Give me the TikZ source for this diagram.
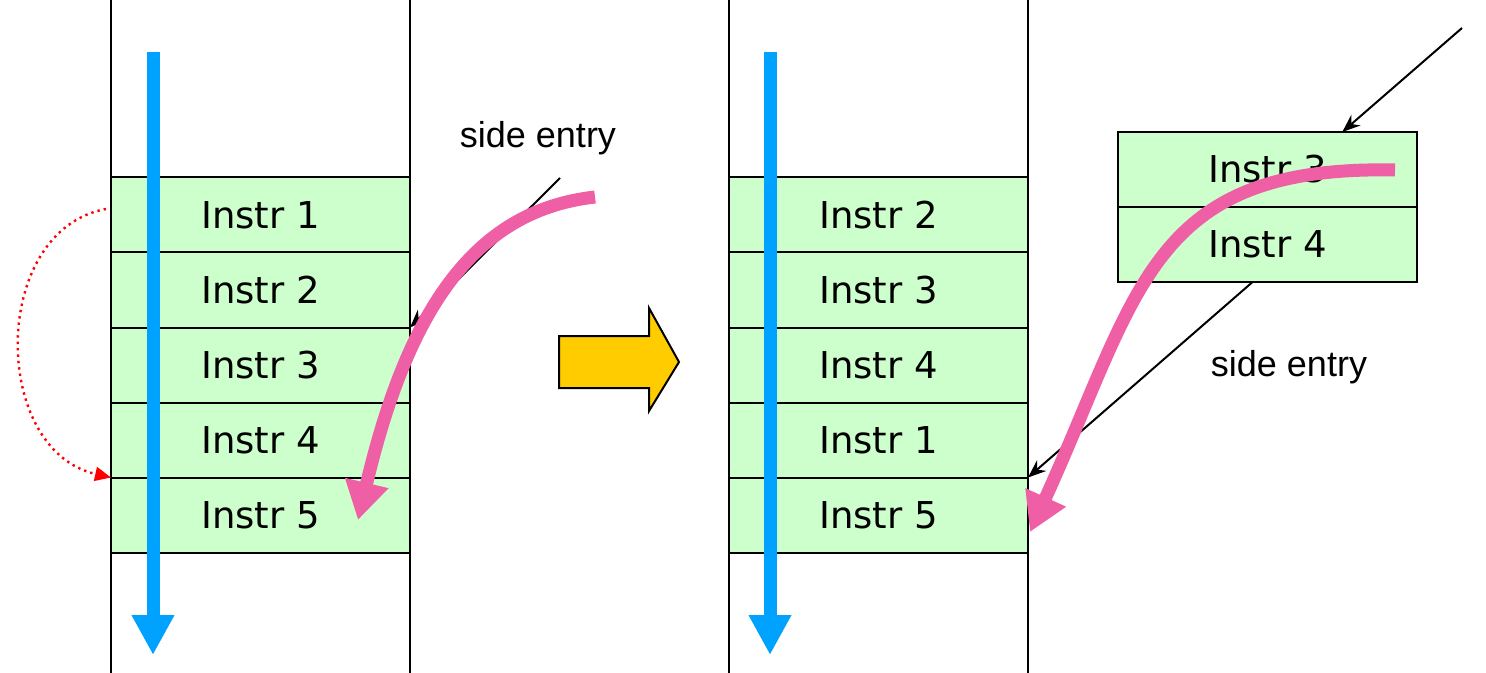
\documentclass[tikz,border=0pt]{standalone}
\usepackage{fontspec}
\setmainfont{Liberation Sans}
\newfontfamily\instrfont{DejaVu Sans}
\usepackage{tikz}
\usetikzlibrary{arrows.meta,positioning,calc}
\definecolor{cellgreen}{HTML}{CCFFCC}
\definecolor{flowblue}{HTML}{00A2FF}
\definecolor{jumppink}{HTML}{EE5FA6}
\definecolor{movegold}{HTML}{FFCC00}

\begin{document}
\begin{tikzpicture}[x=0.5pt,y=-0.5pt,
	cell/.style={draw,line width=1pt,fill=cellgreen,minimum width=149.5pt,minimum height=37.5pt,inner sep=0pt,outer sep=0pt,font=\instrfont\fontsize{18.5}{22}\selectfont},
	entry/.style={line width=1pt,-{Stealth[length=9pt,width=7pt]}},
	flow/.style={line width=6.5pt,flowblue,-{Triangle[length=20pt,width=20pt]}},
	jump/.style={line width=6.5pt,jumppink,-{Triangle[length=19pt,width=21pt]}},
	lbl/.style={font=\fontsize{18}{22}\selectfont}]
	\useasboundingbox (0,0) rectangle (1486,673);
	% left column
	\draw[line width=1pt] (111,0)--(111,673) (410,0)--(410,673);
	\node[cell] (l1) at (260.5,215) {Instr 1};
	\node[cell,below=0pt of l1] (l2) {Instr 2};
	\node[cell,below=0pt of l2] (l3) {Instr 3};
	\node[cell,below=0pt of l3] (l4) {Instr 4};
	\node[cell,below=0pt of l4] (l5) {Instr 5};
	\node[lbl] (se1) at (538,138) {side entry};
	\coordinate (s1) at (560,178);
	\draw[entry] (s1)--(l3.north east);
	\draw[red,line width=1.2pt,dotted,-{Triangle[length=8pt,width=7pt]}] ([shift={(-5,-6)}]l1.west) .. controls (-10,230) and (-10,450) .. (l5.north west);
	\coordinate (bl1) at (153,52);
	\coordinate (bl2) at (153,655);
	\draw[flow] (bl1)--(bl2);
	\coordinate (pl1) at (595,197);
	\coordinate (pl2) at (358,520);
	\draw[jump] (pl1) .. controls (480,210) and (410,300) .. (pl2);
	% big arrow
	\draw[line width=1pt,fill=movegold,line join=miter] (559,336)--(649,336)--(649,308)--(679,362)--(649,411)--(649,388)--(559,388)--cycle;
	% right column
	\draw[line width=1pt] (729,0)--(729,673) (1028,0)--(1028,673);
	\node[cell] (r2) at (878.5,215) {Instr 2};
	\node[cell,below=0pt of r2] (r3) {Instr 3};
	\node[cell,below=0pt of r3] (r4) {Instr 4};
	\node[cell,below=0pt of r4] (r1) {Instr 1};
	\node[cell,below=0pt of r1] (r5) {Instr 5};
	\node[cell] (t3) at (1267.5,169.5) {Instr 3};
	\node[cell,below=0pt of t3] (t4) {Instr 4};
	\node[lbl] (se2) at (1289,367) {side entry};
	\coordinate (s2) at (1462,28);
	\draw[entry] (s2)--($(t3.north west)!0.75!(t3.north east)$);
	\draw[entry] ($(t4.south west)!0.45!(t4.south east)$)--(r1.south east);
	\coordinate (br1) at (770,52);
	\coordinate (br2) at (770,655);
	\draw[flow] (br1)--(br2);
	\coordinate (pr1) at (1395,170);
	\coordinate (pr2) at (1030,532);
	\draw[jump] (pr1) .. controls (1150,165) and (1140,290) .. (pr2);
\end{tikzpicture}
\end{document}
